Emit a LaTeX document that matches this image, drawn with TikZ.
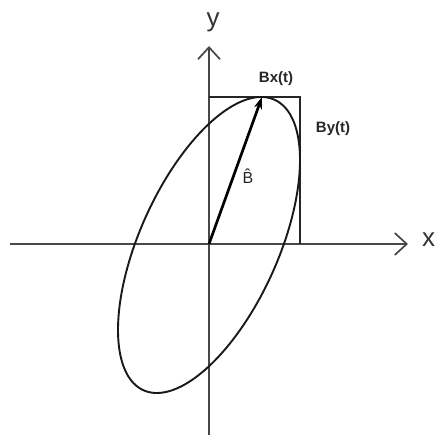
\documentclass[tikz,border=0pt]{standalone}
\usepackage{fontspec}
\setmainfont{Liberation Sans}
\usetikzlibrary{arrows.meta}
\begin{document}
\begin{tikzpicture}[x=1pt,y=-1pt,
  axis/.style={draw=black!72, line width=1.7pt, -{Straight Barb[length=12pt,width=22pt,line width=1.7pt]}},
  boxline/.style={draw=black!85, line width=2.1pt},
  curve/.style={draw=black!90, line width=1.9pt},
  vec/.style={draw=black, line width=2.7pt, -{Stealth[length=12pt,width=8pt]}},
  lbl/.style={font=\bfseries\fontsize{15}{15}\selectfont, text=black!85, inner sep=0pt},
  axlbl/.style={font=\fontsize{26}{26}\selectfont, text=black!80, inner sep=0pt}]
\useasboundingbox (0,0) rectangle (436,435);
\fill[white] (0,0) rectangle (436,435);
% key points
\coordinate (O) at (209,244);
\coordinate (ybot) at (209,436);
\coordinate (ytop) at (209,46);
\coordinate (xleft) at (10,244);
\coordinate (xright) at (408,244);
\coordinate (tip) at (262,97);
\coordinate (c1) at (209,97);
\coordinate (c2) at (300,97);
\coordinate (c3) at (300,244);
% axes
\draw[axis] (ybot) -- (ytop);
\draw[axis] (xleft) -- (xright);
% rectangle
\draw[boxline] (c1) -- (c2) -- (c3);
% ellipse
\draw[curve] plot[domain=0:360, samples=240, smooth cycle]
  ({209+91*cos(\x)}, {245-148*cos(\x-55)});
% vector
\draw[vec] (O) -- (tip);
% labels
\node[axlbl] (ylab) at (213,22) {y};
\node[axlbl, anchor=west] (xlab) at (422,240) {x};
\node[lbl] (bx) at (276,79) {Bx(t)};
\node[lbl] (by) at (333,129) {By(t)};
\node[font=\fontsize{16}{16}\selectfont, text=black!85, inner sep=0pt] (bhat) at (248,176) {\^{B}};
\end{tikzpicture}
\end{document}
